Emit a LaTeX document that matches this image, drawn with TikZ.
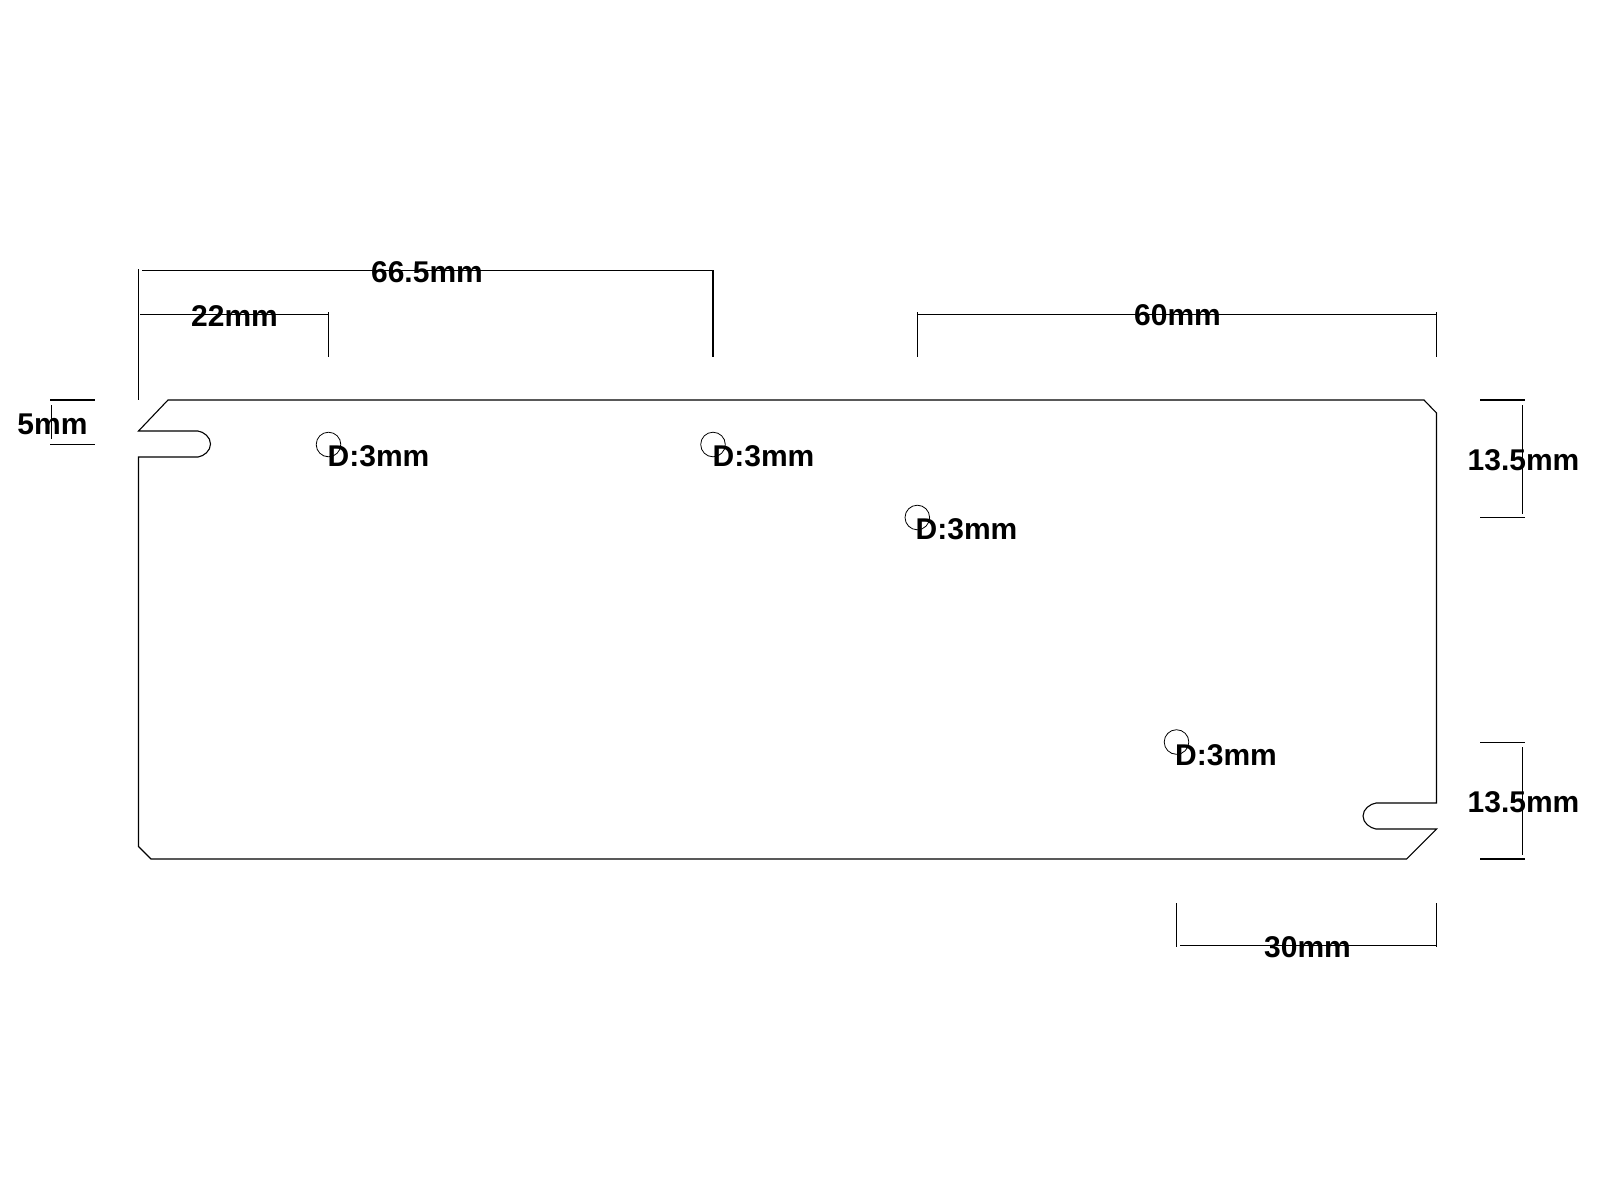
\documentclass[tikz,border=0pt]{standalone}
\usepackage{fontspec}
\setmainfont{Liberation Sans}
\tikzset{
  part/.style={draw=black,line width=1.1pt,line join=miter},
  dimline/.style={draw=black,line width=1.1pt},
  hole/.style={draw=black,line width=0.8pt},
  dimtext/.style={inner sep=0pt,font=\fontsize{30}{30}\selectfont\bfseries,text=black}
}
\begin{document}
\begin{tikzpicture}[x=1pt,y=-1pt]
\useasboundingbox[fill=white] (0,0) rectangle (1600,1200);
% outline
\draw[part] (168,400) -- (1424,400) -- (1436.5,413) -- (1436.5,803) -- (1376,803)
  .. controls (1370,804) and (1363,809) .. (1363,816)
  .. controls (1363,823) and (1370,828) .. (1376,829)
  -- (1436.5,829) -- (1406.5,859) -- (151,859) -- (138.5,846.5) -- (138.5,457) -- (198,457)
  .. controls (204,456) and (210.5,451) .. (210.5,444)
  .. controls (210.5,437) and (204,432) .. (198,431)
  -- (138.5,431) -- cycle;
% holes
\draw[hole] (328.5,444.5) circle (12.3);
\draw[hole] (713,444.5) circle (12.3);
\draw[hole] (917.3,517.5) circle (12.3);
\draw[hole] (1176.5,742) circle (12.3);
% dimension lines
\draw[dimline] (138.5,269) -- (138.5,400);
\draw[dimline] (142,270.5) -- (713,270.5);
\draw[dimline] (713,270) -- (713,357);
\draw[dimline] (140,314.5) -- (328.3,314.5);
\draw[dimline] (328.3,312) -- (328.3,357);
\draw[dimline] (917.3,314.5) -- (1436.3,314.5);
\draw[dimline] (917.3,312) -- (917.3,357);
\draw[dimline] (1436.3,312) -- (1436.3,357);
\draw[dimline] (50,400) -- (95,400);
\draw[dimline] (50,444.3) -- (95,444.3);
\draw[dimline] (51.5,405) -- (51.5,439);
\draw[dimline] (1480,400) -- (1525,400);
\draw[dimline] (1480,517.3) -- (1525,517.3);
\draw[dimline] (1522.5,405) -- (1522.5,514);
\draw[dimline] (1480,742.5) -- (1525,742.5);
\draw[dimline] (1480,859) -- (1525,859);
\draw[dimline] (1522.5,747) -- (1522.5,855);
\draw[dimline] (1176.5,903) -- (1176.5,947);
\draw[dimline] (1180,945.7) -- (1436.3,945.7);
\draw[dimline] (1436.3,903) -- (1436.3,947);
% labels
\node[dimtext,anchor=base] (t665) at (427,282) {66.5mm};
\node[dimtext,anchor=base] (t22) at (234.5,326) {22mm};
\node[dimtext,anchor=base] (t60) at (1177.5,325) {60mm};
\node[dimtext,anchor=base] (t5) at (52.5,434) {5mm};
\node[dimtext,anchor=base] (t135a) at (1523.5,470) {13.5mm};
\node[dimtext,anchor=base] (t135b) at (1523.5,812) {13.5mm};
\node[dimtext,anchor=base] (t30) at (1307.5,957) {30mm};
\node[dimtext,anchor=base west] (d1) at (327.5,466) {D:3mm};
\node[dimtext,anchor=base west] (d2) at (712.5,466) {D:3mm};
\node[dimtext,anchor=base west] (d3) at (915.5,539) {D:3mm};
\node[dimtext,anchor=base west] (d4) at (1175,765) {D:3mm};
\end{tikzpicture}
\end{document}
